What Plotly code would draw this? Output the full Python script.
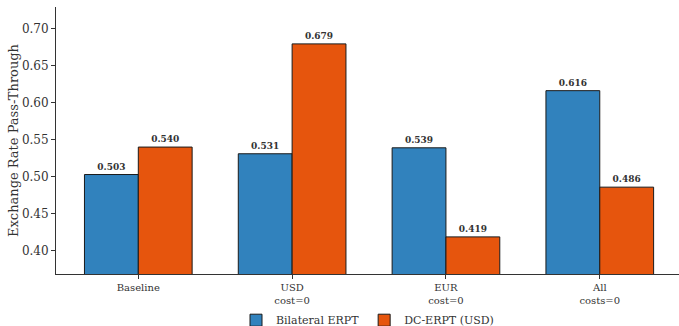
import plotly.graph_objects as go

categories = ["Baseline", "USD<br>cost=0", "EUR<br>cost=0", "All<br>costs=0"]
bilateral_erpt = [0.503, 0.531, 0.539, 0.616]
dc_erpt_usd = [0.540, 0.679, 0.419, 0.486]
y_ticks = [0.40, 0.45, 0.50, 0.55, 0.60, 0.65, 0.70]

FONT = "DejaVu Serif"
TXT = "#333333"

x_idx = list(range(len(categories)))

fig = go.Figure()
fig.add_trace(go.Bar(
    x=x_idx, y=bilateral_erpt, name="Bilateral ERPT",
    marker=dict(color="#3182bd", line=dict(color="#1a1a1a", width=1)),
    texttemplate="<b>%{y:.3f}</b>", textposition="outside",
    textfont=dict(family=FONT, size=9, color=TXT), cliponaxis=False,
))
fig.add_trace(go.Bar(
    x=x_idx, y=dc_erpt_usd, name="DC-ERPT (USD)",
    marker=dict(color="#e6550d", line=dict(color="#1a1a1a", width=1)),
    texttemplate="<b>%{y:.3f}</b>", textposition="outside",
    textfont=dict(family=FONT, size=9, color=TXT), cliponaxis=False,
))

fig.update_layout(
    width=679, height=326,
    margin=dict(l=56, r=0, t=7, b=52, autoexpand=False),
    paper_bgcolor="white", plot_bgcolor="white",
    barmode="group", bargap=0.3, bargroupgap=0,
    font=dict(family=FONT, color=TXT),
    showlegend=True,
    legend=dict(
        orientation="h", x=0.5, xanchor="center",
        y=-0.173, yanchor="middle",
        font=dict(family=FONT, size=11, color=TXT),
        traceorder="normal",
    ),
)
fig.update_xaxes(
    range=[-0.535, 3.515],
    tickvals=x_idx, ticktext=categories,
    tickfont=dict(family=FONT, size=10, color=TXT),
    showline=True, linecolor="#333333", linewidth=1,
    ticks="outside", ticklen=4, tickcolor="#333333",
    showgrid=False, zeroline=False, automargin=False,
)
fig.update_yaxes(
    range=[0.369, 0.7287],
    tickvals=y_ticks, tickformat=".2f",
    tickfont=dict(family=FONT, size=12, color=TXT),
    title=dict(text="Exchange Rate Pass-Through", font=dict(family=FONT, size=13, color=TXT), standoff=0),
    showline=True, linecolor="#333333", linewidth=1,
    ticks="outside", ticklen=4, tickcolor="#333333",
    showgrid=False, zeroline=False, automargin=False,
)

fig.write_html("out.html")
